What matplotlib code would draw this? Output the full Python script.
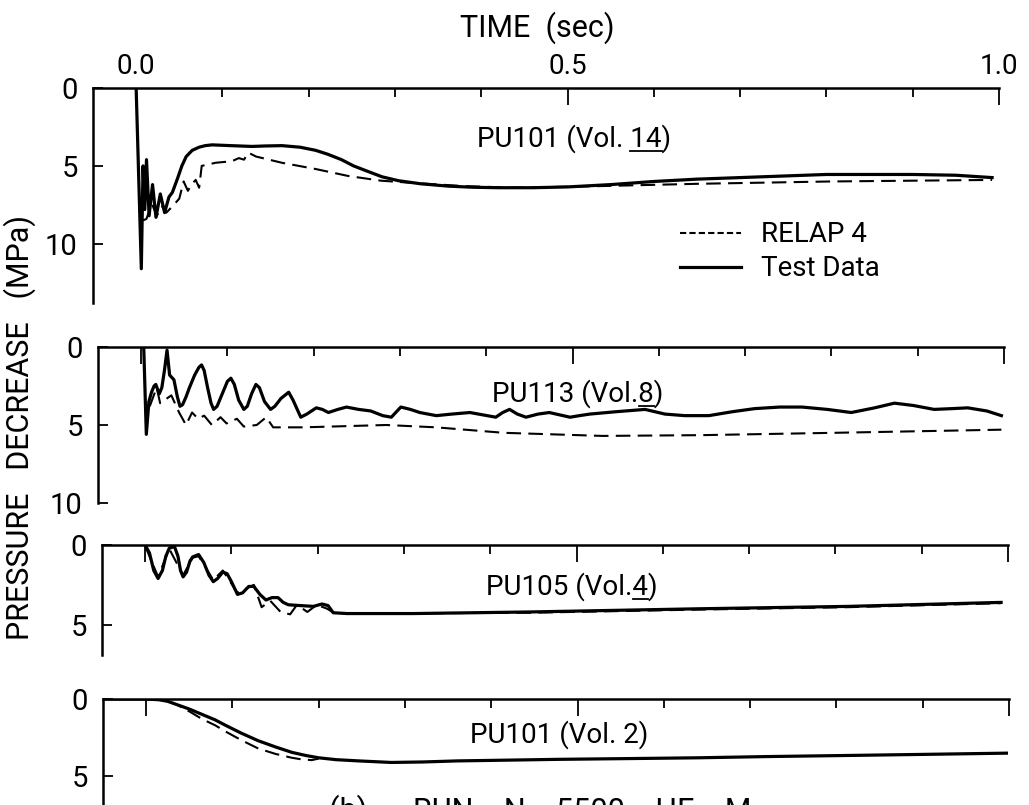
import matplotlib
matplotlib.use("Agg")
import matplotlib.pyplot as plt
from matplotlib.lines import Line2D

plt.rcParams['font.family'] = ['Roboto', 'DejaVu Sans']

# ---- data (time in s, pressure decrease in MPa) ----
# PU101 (Vol. 14)
t1_test = [0.0, 0.006, 0.008, 0.010, 0.012, 0.015, 0.019, 0.023, 0.028, 0.033, 0.038, 0.042,
           0.048, 0.053, 0.058, 0.065, 0.073, 0.080, 0.088, 0.11, 0.134, 0.15, 0.169, 0.19,
           0.208, 0.222, 0.238, 0.252, 0.266, 0.285, 0.304, 0.33, 0.362, 0.39, 0.419, 0.46,
           0.5, 0.55, 0.6, 0.65, 0.7, 0.75, 0.8, 0.85, 0.9, 0.95, 0.992]
p1_test = [0.0, 11.6, 5.0, 7.8, 4.6, 8.2, 6.2, 8.3, 6.8, 8.0, 7.0, 6.7,
           5.8, 5.0, 4.4, 4.0, 3.8, 3.7, 3.65, 3.7, 3.75, 3.72, 3.7, 3.8,
           4.0, 4.25, 4.6, 5.0, 5.3, 5.7, 5.95, 6.15, 6.3, 6.37, 6.4, 6.4,
           6.35, 6.2, 6.0, 5.85, 5.75, 5.65, 5.55, 5.55, 5.55, 5.6, 5.75]
t1_relap = [0.008, 0.012, 0.018, 0.024, 0.030, 0.035, 0.042, 0.050, 0.055, 0.060, 0.064, 0.069,
            0.073, 0.076, 0.092, 0.111, 0.119, 0.125, 0.130, 0.139, 0.169, 0.208, 0.246, 0.284,
            0.323, 0.381, 0.439, 0.535, 0.65, 0.804, 0.992]
p1_relap = [8.5, 8.4, 7.4, 8.2, 7.6, 8.0, 7.6, 7.1, 6.0, 6.6, 6.2, 5.9,
            6.4, 5.0, 4.8, 4.7, 4.5, 4.6, 4.15, 4.4, 4.8, 5.2, 5.65, 5.95,
            6.1, 6.3, 6.4, 6.3, 6.15, 6.0, 5.9]

# PU113 (Vol. 8)
t2_test = [0.003, 0.006, 0.009, 0.012, 0.015, 0.017, 0.021, 0.024, 0.027, 0.030, 0.033, 0.038,
           0.042, 0.045, 0.048, 0.052, 0.056, 0.062, 0.067, 0.070, 0.073, 0.077, 0.081, 0.084,
           0.088, 0.094, 0.100, 0.104, 0.108, 0.113, 0.119, 0.123, 0.128, 0.133, 0.137, 0.143,
           0.150, 0.155, 0.162, 0.171, 0.176, 0.185, 0.192, 0.203, 0.210, 0.217, 0.228, 0.238,
           0.252, 0.266, 0.280, 0.290, 0.295, 0.301, 0.312, 0.323, 0.342, 0.360, 0.381, 0.396,
           0.411, 0.419, 0.427, 0.436, 0.446, 0.460, 0.473, 0.485, 0.497, 0.508, 0.520, 0.550,
           0.584, 0.607, 0.630, 0.658, 0.685, 0.711, 0.740, 0.766, 0.795, 0.823, 0.850, 0.873,
           0.895, 0.919, 0.940, 0.958, 0.980, 0.997]
p2_test = [0.0, 5.6, 3.5, 2.9, 2.5, 2.4, 3.0, 2.6, 1.5, 0.2, 1.8, 2.1,
           3.2, 3.8, 3.7, 3.2, 2.6, 1.8, 1.3, 1.15, 1.5, 2.6, 3.6, 4.0,
           3.8, 3.0, 2.2, 2.0, 2.4, 3.4, 4.0, 3.8, 3.0, 2.4, 2.6, 3.5,
           4.0, 3.8, 3.3, 2.9, 3.4, 4.5, 4.3, 3.9, 4.0, 4.2, 4.0, 3.85,
           4.0, 4.1, 4.4, 4.5, 4.2, 3.85, 4.0, 4.2, 4.4, 4.3, 4.2, 4.35,
           4.5, 4.2, 4.0, 4.3, 4.5, 4.3, 4.2, 4.35, 4.5, 4.4, 4.3, 4.15,
           4.0, 4.3, 4.4, 4.4, 4.15, 3.95, 3.85, 3.85, 4.0, 4.2, 3.9, 3.6,
           3.75, 4.0, 3.95, 3.9, 4.1, 4.4]
t2_relap = [0.010, 0.018, 0.022, 0.035, 0.044, 0.052, 0.059, 0.066, 0.073, 0.082, 0.092, 0.099,
            0.111, 0.119, 0.134, 0.145, 0.153, 0.188, 0.284, 0.342, 0.42, 0.535, 0.65, 0.804, 0.997]
p2_relap = [3.8, 2.6, 3.6, 3.1, 4.2, 5.0, 4.2, 4.6, 4.4, 5.0, 4.5, 4.9,
            4.6, 5.1, 5.0, 4.5, 5.15, 5.15, 5.0, 5.15, 5.5, 5.7, 5.65, 5.5, 5.3]

# PU105 (Vol. 4)
t3_test = [0.001, 0.005, 0.010, 0.015, 0.020, 0.024, 0.028, 0.034, 0.038, 0.041, 0.044, 0.048,
           0.052, 0.055, 0.062, 0.068, 0.074, 0.079, 0.084, 0.090, 0.095, 0.100, 0.107, 0.113,
           0.120, 0.126, 0.133, 0.140, 0.147, 0.154, 0.160, 0.166, 0.180, 0.195, 0.205, 0.212,
           0.218, 0.234, 0.311, 0.446, 0.642, 0.815, 0.992]
p3_test = [0.1, 0.5, 1.6, 2.1, 1.6, 0.7, 0.2, 0.1, 0.7, 1.6, 2.0, 1.7,
           1.0, 0.75, 0.6, 1.1, 1.9, 2.3, 2.1, 1.7, 1.8, 2.3, 3.1, 3.0,
           2.6, 2.6, 3.1, 3.45, 3.3, 3.3, 3.6, 3.75, 3.8, 3.85, 3.7, 3.8,
           4.25, 4.3, 4.3, 4.2, 4.0, 3.85, 3.6]
t3_relap = [0.0, 0.015, 0.028, 0.044, 0.055, 0.062, 0.079, 0.090, 0.107, 0.126, 0.135, 0.145,
            0.157, 0.168, 0.176, 0.188, 0.199, 0.211, 0.217, 0.234, 0.446, 0.642, 0.815, 0.992]
p3_relap = [0.05, 2.0, 0.25, 1.9, 0.8, 0.7, 2.2, 1.6, 3.0, 2.5, 3.9, 3.5,
            4.2, 4.35, 3.75, 4.2, 3.75, 4.0, 4.2, 4.3, 4.25, 4.05, 3.9, 3.65]

# PU101 (Vol. 2)
t4_test = [-0.05, 0.0, 0.015, 0.025, 0.035, 0.05, 0.065, 0.08, 0.092, 0.11, 0.130, 0.15,
           0.169, 0.185, 0.200, 0.22, 0.246, 0.284, 0.32, 0.361, 0.42, 0.477, 0.56, 0.639,
           0.72, 0.812, 0.9, 0.997]
p4_test = [0.0, 0.0, 0.05, 0.15, 0.35, 0.65, 1.0, 1.35, 1.7, 2.2, 2.7, 3.1,
           3.45, 3.65, 3.8, 3.92, 4.0, 4.1, 4.07, 4.0, 3.95, 3.9, 3.85, 3.8,
           3.72, 3.65, 3.58, 3.5]
t4_relap = [0.0, 0.015, 0.025, 0.035, 0.05, 0.065, 0.08, 0.092, 0.11, 0.130, 0.15, 0.169,
            0.18, 0.192, 0.2]
p4_relap = [0.0, 0.05, 0.15, 0.35, 0.8, 1.3, 1.7, 2.1, 2.65, 3.2, 3.55, 3.8,
            3.9, 3.95, 3.85]

titles = [("PU101 (Vol. ", "14", ")"), ("PU113 (Vol.", "8", ")"),
          ("PU105 (Vol.", "4", ")"), ("PU101 (Vol. 2)", "", "")]
yticks = [[0, 5, 10], [0, 5, 10], [0, 5], [0, 5]]
ylims = [13.8, 10.0, 6.9, 6.85]
x_major = [0.0, 0.5, 1.0]
x_minor = [0.1, 0.2, 0.3, 0.4, 0.6, 0.7, 0.8, 0.9]
x_ticklabels = ["0.0", "0.5", "1.0"]

W, H = 1029, 805
fig = plt.figure(figsize=(W / 100, H / 100), dpi=100)

# panel boxes in pixels (left, top, bottom) -- scan is slightly skewed
boxes = [(93, 88, 303), (98, 347, 503), (102, 545, 655), (103, 699, 805)]
width_px = 906
title_pos = [(0.531, 0.726), (0.53, 0.647), (0.519, 0.545), (0.504, 0.585)]

series = [(t1_test, p1_test, t1_relap, p1_relap),
          (t2_test, p2_test, t2_relap, p2_relap),
          (t3_test, p3_test, t3_relap, p3_relap),
          (t4_test, p4_test, t4_relap, p4_relap)]

dash = (0, (7, 3.5))
axes = []
for i, (left, top, bottom) in enumerate(boxes):
    ax = fig.add_axes([left / W, 1 - bottom / H, width_px / W, (bottom - top) / H])
    ax.set_facecolor('none')
    tt, pt, tr, pr = series[i]
    ax.plot(tr, pr, color='black', lw=1.5, linestyle=dash)
    ax.plot(tt, pt, color='black', lw=2.3, solid_joinstyle='round')
    ax.set_xlim(-0.05, 1.0)
    ax.set_ylim(ylims[i], 0)
    for s in ['right', 'bottom']:
        ax.spines[s].set_visible(False)
    for s in ['top', 'left']:
        ax.spines[s].set_linewidth(1.8)
    ax.xaxis.set_ticks_position('top')
    ax.set_xticks(x_major)
    ax.set_xticks(x_minor, minor=True)
    ax.set_xticklabels(x_ticklabels if i == 0 else [])
    ax.tick_params(axis='x', which='major', direction='in', length=12, width=1.3, pad=6,
                   labelsize=20, labeltop=(i == 0), labelbottom=False)
    ax.tick_params(axis='x', which='minor', direction='in', length=6.5, width=1.3)
    ax.set_yticks(yticks[i])
    ax.tick_params(axis='y', direction='in', length=7, width=1.3, pad=11, labelsize=21)
    axes.append(ax)

# legend in the first panel
h_relap = Line2D([], [], color='black', lw=1.5, linestyle=(0, (3, 1.5)))
h_test = Line2D([], [], color='black', lw=2.3)
axes[0].legend([h_relap, h_test], ["RELAP 4", "Test Data"], loc='upper left',
               bbox_to_anchor=(0.648, 0.38), frameon=False, fontsize=20,
               handlelength=2.2, handletextpad=0.7, labelspacing=0.25, borderpad=0,
               borderaxespad=0)

# panel titles, with the volume number underlined
renderer = fig.canvas.get_renderer()
for ax, (pre, ul, post), (tx, ty) in zip(axes, titles, title_pos):
    t = ax.text(tx, ty, pre + ul + post, transform=ax.transAxes, ha='center',
                va='baseline', fontsize=20)
    if ul:
        bb = t.get_window_extent(renderer)

        def width(s):
            tmp = ax.text(0, 0, s, fontsize=20)
            w = tmp.get_window_extent(renderer).width
            tmp.remove()
            return w

        x1 = bb.x0 + width(pre + ul)
        x0 = x1 - width(ul)
        yb = ax.transAxes.transform((tx, ty))[1] - 4
        (fx0, fy), (fx1, _) = fig.transFigure.inverted().transform([(x0, yb), (x1, yb)])
        fig.add_artist(Line2D([fx0, fx1], [fy, fy], color='black', lw=1.3,
                              transform=fig.transFigure))

fig.text(537 / W, 1 - 28 / H, "TIME  (sec)", ha='center', va='center', fontsize=22)
fig.text(20 / W, 1 - 428 / H, "PRESSURE   DECREASE   (MPa)", rotation=90,
         ha='center', va='center', fontsize=22)
fig.text(540 / W, 1 - 794 / H, "(b)      RUN    N    5500    HE    M", ha='center',
         va='top', fontsize=22)

fig.savefig("out.png", dpi=100)
